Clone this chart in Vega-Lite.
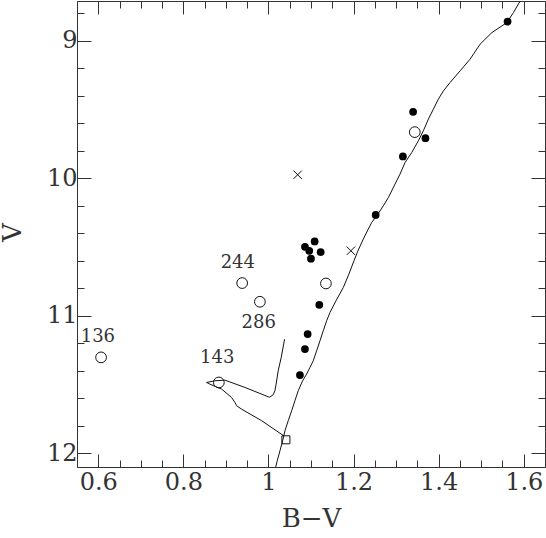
{
  "$schema": "https://vega.github.io/schema/vega-lite/v6.json",
  "width": 468,
  "height": 466,
  "autosize": "none",
  "padding": {"left": 77, "top": 1, "right": 1, "bottom": 71},
  "config": {
    "view": {"stroke": "#333333", "strokeWidth": 1},
    "font": "DejaVu Serif",
    "axis": {"grid": false, "domain": false, "tickColor": "#333333", "tickWidth": 1, "labelFont": "DejaVu Serif", "labelColor": "#333333", "titleFont": "DejaVu Serif", "titleColor": "#333333", "titleFontWeight": "normal"}
  },
  "datasets": {
    "iso": [
      {"seg": "ms", "ord": 1, "bv": 1.0168, "v": 12.104},
      {"seg": "ms", "ord": 2, "bv": 1.0206, "v": 12.055},
      {"seg": "ms", "ord": 3, "bv": 1.0270, "v": 11.982},
      {"seg": "ms", "ord": 4, "bv": 1.0334, "v": 11.909},
      {"seg": "ms", "ord": 5, "bv": 1.0388, "v": 11.836},
      {"seg": "ms", "ord": 6, "bv": 1.0465, "v": 11.763},
      {"seg": "ms", "ord": 7, "bv": 1.0545, "v": 11.691},
      {"seg": "ms", "ord": 8, "bv": 1.0622, "v": 11.618},
      {"seg": "ms", "ord": 9, "bv": 1.0700, "v": 11.545},
      {"seg": "ms", "ord": 10, "bv": 1.0803, "v": 11.473},
      {"seg": "ms", "ord": 11, "bv": 1.0897, "v": 11.424},
      {"seg": "ms", "ord": 12, "bv": 1.0975, "v": 11.376},
      {"seg": "ms", "ord": 13, "bv": 1.1053, "v": 11.327},
      {"seg": "ms", "ord": 14, "bv": 1.1133, "v": 11.254},
      {"seg": "ms", "ord": 15, "bv": 1.1211, "v": 11.182},
      {"seg": "ms", "ord": 16, "bv": 1.1288, "v": 11.109},
      {"seg": "ms", "ord": 17, "bv": 1.1368, "v": 11.036},
      {"seg": "ms", "ord": 18, "bv": 1.1446, "v": 10.976},
      {"seg": "ms", "ord": 19, "bv": 1.1587, "v": 10.891},
      {"seg": "ms", "ord": 20, "bv": 1.1759, "v": 10.794},
      {"seg": "ms", "ord": 21, "bv": 1.1890, "v": 10.697},
      {"seg": "ms", "ord": 22, "bv": 1.2010, "v": 10.600},
      {"seg": "ms", "ord": 23, "bv": 1.2100, "v": 10.530},
      {"seg": "ms", "ord": 24, "bv": 1.2229, "v": 10.442},
      {"seg": "ms", "ord": 25, "bv": 1.2347, "v": 10.369},
      {"seg": "ms", "ord": 26, "bv": 1.2427, "v": 10.321},
      {"seg": "ms", "ord": 27, "bv": 1.2545, "v": 10.273},
      {"seg": "ms", "ord": 28, "bv": 1.2700, "v": 10.200},
      {"seg": "ms", "ord": 29, "bv": 1.2818, "v": 10.140},
      {"seg": "ms", "ord": 30, "bv": 1.2975, "v": 10.042},
      {"seg": "ms", "ord": 31, "bv": 1.3093, "v": 9.969},
      {"seg": "ms", "ord": 32, "bv": 1.3211, "v": 9.885},
      {"seg": "ms", "ord": 33, "bv": 1.3368, "v": 9.812},
      {"seg": "ms", "ord": 34, "bv": 1.3524, "v": 9.727},
      {"seg": "ms", "ord": 35, "bv": 1.3641, "v": 9.654},
      {"seg": "ms", "ord": 36, "bv": 1.3759, "v": 9.569},
      {"seg": "ms", "ord": 37, "bv": 1.3876, "v": 9.497},
      {"seg": "ms", "ord": 38, "bv": 1.3994, "v": 9.424},
      {"seg": "ms", "ord": 39, "bv": 1.4112, "v": 9.364},
      {"seg": "ms", "ord": 40, "bv": 1.4269, "v": 9.303},
      {"seg": "ms", "ord": 41, "bv": 1.4505, "v": 9.218},
      {"seg": "ms", "ord": 42, "bv": 1.4740, "v": 9.133},
      {"seg": "ms", "ord": 43, "bv": 1.4975, "v": 9.024},
      {"seg": "ms", "ord": 44, "bv": 1.5251, "v": 8.940},
      {"seg": "ms", "ord": 45, "bv": 1.5603, "v": 8.867},
      {"seg": "ms", "ord": 46, "bv": 1.5759, "v": 8.794},
      {"seg": "ms", "ord": 47, "bv": 1.5917, "v": 8.709},
      {"seg": "hook", "ord": 1, "bv": 1.0380, "v": 11.170},
      {"seg": "hook", "ord": 2, "bv": 1.0300, "v": 11.303},
      {"seg": "hook", "ord": 3, "bv": 1.0229, "v": 11.400},
      {"seg": "hook", "ord": 4, "bv": 1.0180, "v": 11.497},
      {"seg": "hook", "ord": 5, "bv": 1.0152, "v": 11.545},
      {"seg": "hook", "ord": 6, "bv": 1.0112, "v": 11.574},
      {"seg": "hook", "ord": 7, "bv": 1.0030, "v": 11.592},
      {"seg": "hook", "ord": 8, "bv": 0.9994, "v": 11.589},
      {"seg": "hook", "ord": 9, "bv": 0.9446, "v": 11.521},
      {"seg": "hook", "ord": 10, "bv": 0.8975, "v": 11.468},
      {"seg": "hook", "ord": 11, "bv": 0.8740, "v": 11.473},
      {"seg": "hook", "ord": 12, "bv": 0.8545, "v": 11.485},
      {"seg": "hook", "ord": 13, "bv": 0.8622, "v": 11.497},
      {"seg": "hook", "ord": 14, "bv": 0.8898, "v": 11.533},
      {"seg": "hook", "ord": 15, "bv": 0.9133, "v": 11.594},
      {"seg": "hook", "ord": 16, "bv": 0.9211, "v": 11.630},
      {"seg": "hook", "ord": 17, "bv": 0.9251, "v": 11.654},
      {"seg": "hook", "ord": 18, "bv": 0.9368, "v": 11.679},
      {"seg": "hook", "ord": 19, "bv": 0.9839, "v": 11.763},
      {"seg": "hook", "ord": 20, "bv": 1.0370, "v": 11.875}
    ],
    "filled": [
      {"bv": 1.562, "v": 8.860},
      {"bv": 1.340, "v": 9.516},
      {"bv": 1.369, "v": 9.708},
      {"bv": 1.316, "v": 9.841},
      {"bv": 1.252, "v": 10.266},
      {"bv": 1.1086, "v": 10.459},
      {"bv": 1.0858, "v": 10.498},
      {"bv": 1.0959, "v": 10.527},
      {"bv": 1.1227, "v": 10.537},
      {"bv": 1.0999, "v": 10.585},
      {"bv": 1.1195, "v": 10.920},
      {"bv": 1.0921, "v": 11.133},
      {"bv": 1.0858, "v": 11.242},
      {"bv": 1.0740, "v": 11.431}
    ],
    "open": [
      {"bv": 1.3439, "v": 9.664},
      {"bv": 0.9382, "v": 10.762},
      {"bv": 0.9799, "v": 10.898},
      {"bv": 1.1351, "v": 10.765},
      {"bv": 0.6066, "v": 11.3025},
      {"bv": 0.8834, "v": 11.485}
    ],
    "crosses": [
      {"bv": 1.0686, "v": 9.974},
      {"bv": 1.1938, "v": 10.527}
    ],
    "square": [
      {"bv": 1.041, "v": 11.902}
    ],
    "labels": [
      {"bv": 0.928, "v": 10.6125, "txt": "244"},
      {"bv": 0.977, "v": 11.055, "txt": "286"},
      {"bv": 0.599, "v": 11.1575, "txt": "136"},
      {"bv": 0.8795, "v": 11.305, "txt": "143"}
    ]
  },
  "layer": [
    {
      "data": {"name": "iso"},
      "mark": {"type": "line", "color": "#111111", "strokeWidth": 1, "clip": true},
      "encoding": {
        "x": {"field": "bv", "type": "quantitative", "scale": {"domain": [0.55, 1.65], "nice": false, "zero": false},
          "axis": {"orient": "bottom", "values": [0.6, 0.8, 1, 1.2, 1.4, 1.6], "tickSize": -13, "labelFontSize": 24, "labelPadding": 16, "labelExpr": "'' + datum.value", "title": "B\u2212V", "titleFontSize": 26, "titlePadding": 11}},
        "y": {"field": "v", "type": "quantitative", "scale": {"domain": [8.71, 12.1], "nice": false, "zero": false, "reverse": true},
          "axis": {"orient": "left", "values": [9, 10, 11, 12], "tickSize": -14, "labelFontSize": 24, "labelPadding": 14, "labelExpr": "'' + datum.value", "title": "V", "titleFontSize": 26, "titleX": -57, "titleY": 231, "titleAngle": -90, "titleAlign": "center", "titleBaseline": "alphabetic"}},
        "detail": {"field": "seg"},
        "order": {"field": "ord", "type": "quantitative"}
      }
    },
    {
      "data": {"name": "filled"},
      "mark": {"type": "point", "shape": "circle", "filled": true, "color": "#000000", "size": 60, "opacity": 1},
      "encoding": {
        "x": {"field": "bv", "type": "quantitative", "scale": {"domain": [0.55, 1.65], "nice": false, "zero": false},
          "axis": {"orient": "bottom", "values": [0.55, 0.65, 0.7, 0.75, 0.85, 0.9, 0.95, 1.05, 1.1, 1.15, 1.25, 1.3, 1.35, 1.45, 1.5, 1.55, 1.65], "tickSize": -7, "labels": false, "title": null}},
        "y": {"field": "v", "type": "quantitative", "scale": {"domain": [8.71, 12.1], "nice": false, "zero": false, "reverse": true},
          "axis": {"orient": "left", "values": [8.8, 9.2, 9.4, 9.6, 9.8, 10.2, 10.4, 10.6, 10.8, 11.2, 11.4, 11.6, 11.8], "tickSize": -7, "labels": false, "title": null}}
      }
    },
    {
      "data": {"name": "open"},
      "mark": {"type": "point", "shape": "circle", "filled": false, "stroke": "#111111", "strokeWidth": 1, "size": 115, "opacity": 1},
      "encoding": {
        "x": {"field": "bv", "type": "quantitative", "scale": {"domain": [0.55, 1.65], "nice": false, "zero": false},
          "axis": {"orient": "top", "values": [0.6, 0.8, 1, 1.2, 1.4, 1.6], "tickSize": -13, "labels": false, "title": null}},
        "y": {"field": "v", "type": "quantitative", "scale": {"domain": [8.71, 12.1], "nice": false, "zero": false, "reverse": true},
          "axis": {"orient": "right", "values": [9, 10, 11, 12], "tickSize": -14, "labels": false, "title": null}}
      }
    },
    {
      "data": {"name": "crosses"},
      "mark": {"type": "point", "shape": "M-1,-1L1,1M-1,1L1,-1", "filled": false, "stroke": "#111111", "strokeWidth": 1, "size": 70, "opacity": 1},
      "encoding": {
        "x": {"field": "bv", "type": "quantitative", "scale": {"domain": [0.55, 1.65], "nice": false, "zero": false},
          "axis": {"orient": "top", "values": [0.55, 0.65, 0.7, 0.75, 0.85, 0.9, 0.95, 1.05, 1.1, 1.15, 1.25, 1.3, 1.35, 1.45, 1.5, 1.55, 1.65], "tickSize": -7, "labels": false, "title": null}},
        "y": {"field": "v", "type": "quantitative", "scale": {"domain": [8.71, 12.1], "nice": false, "zero": false, "reverse": true},
          "axis": {"orient": "right", "values": [8.8, 9.2, 9.4, 9.6, 9.8, 10.2, 10.4, 10.6, 10.8, 11.2, 11.4, 11.6, 11.8], "tickSize": -7, "labels": false, "title": null}}
      }
    },
    {
      "data": {"name": "square"},
      "mark": {"type": "point", "shape": "square", "filled": false, "stroke": "#111111", "strokeWidth": 1, "size": 64, "opacity": 1},
      "encoding": {
        "x": {"field": "bv", "type": "quantitative", "axis": null},
        "y": {"field": "v", "type": "quantitative", "axis": null}
      }
    },
    {
      "data": {"name": "labels"},
      "mark": {"type": "text", "font": "DejaVu Serif", "fontSize": 18, "color": "#333333", "align": "center", "baseline": "middle"},
      "encoding": {
        "x": {"field": "bv", "type": "quantitative", "axis": null},
        "y": {"field": "v", "type": "quantitative", "axis": null},
        "text": {"field": "txt"}
      }
    }
  ],
  "resolve": {"axis": {"x": "independent", "y": "independent"}}
}
